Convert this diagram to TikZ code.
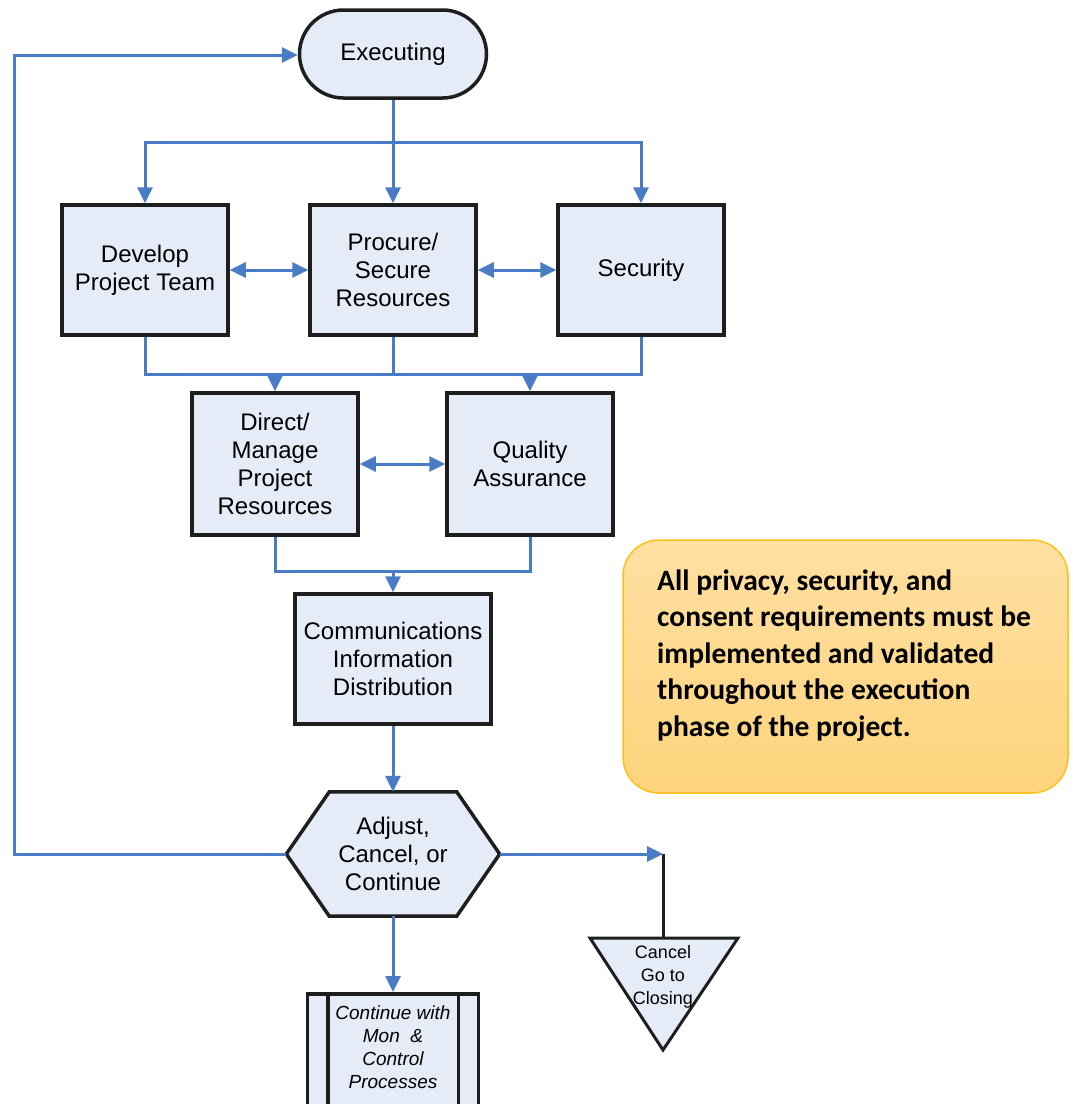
\documentclass[tikz,border=0pt]{standalone}
\usepackage{fontspec}
\setmainfont{Liberation Sans}
\newfontfamily\notefont{Carlito}
\usetikzlibrary{arrows.meta,shapes.misc,calc}

\definecolor{boxfill}{HTML}{E6ECF7}
\definecolor{boxline}{HTML}{1E1E1E}
\definecolor{flow}{HTML}{4A7CC6}
\definecolor{notetop}{HTML}{FFE0A2}
\definecolor{notebot}{HTML}{FED47C}
\definecolor{noteline}{HTML}{FFC119}

\tikzset{
  stepbox/.style={draw=boxline, line width=3.5pt, fill=boxfill, inner sep=0pt,
    align=center, font=\fontsize{24}{28}\selectfont},
  flowline/.style={draw=flow, line width=3pt},
  flowarrow/.style={flowline, -{Triangle[length=16pt,width=15pt]}},
  flowboth/.style={flowline, {Triangle[length=16pt,width=15pt]}-{Triangle[length=16pt,width=15pt]}},
  plainline/.style={draw=boxline, line width=3pt},
}

\begin{document}
\begin{tikzpicture}[x=1pt,y=-1pt]
\useasboundingbox (0,0) rectangle (1072,1104);

% start terminal
\node[stepbox, rounded rectangle, minimum width=187pt, minimum height=88pt] (exec) at (393,54) {Executing};

% first row of activities
\node[stepbox, minimum width=166pt, minimum height=130pt] (dev)  at (145,270) {Develop\\Project Team};
\node[stepbox, minimum width=166pt, minimum height=130pt] (proc) at (393,270) {Procure/\\Secure\\Resources};
\node[stepbox, minimum width=166pt, minimum height=130pt] (sec)  at (641,270) {Security};

% second row
\node[stepbox, minimum width=166pt, minimum height=142pt] (dir) at (275,464) {Direct/\\Manage\\Project\\Resources};
\node[stepbox, minimum width=166pt, minimum height=142pt] (qa)  at (530,464) {Quality\\Assurance};

% communications
\node[stepbox, minimum width=196pt, minimum height=130pt] (comm) at (393,659) {Communications\\Information\\Distribution};

% decision hexagon
\node[inner sep=0pt, minimum width=213pt, minimum height=124pt] (hex) at (393,854) {};
\filldraw[fill=boxfill, draw=boxline, line width=3.5pt, line join=miter]
  (hex.west) -- ($(hex.north west)+(43,0)$) -- ($(hex.north east)+(-43,0)$)
  -- (hex.east) -- ($(hex.south east)+(-43,0)$) -- ($(hex.south west)+(43,0)$) -- cycle;
\node[align=center, font=\fontsize{24}{28}\selectfont] at (hex) {Adjust,\\Cancel, or\\Continue};

% predefined process box (runs off the bottom)
\node[stepbox, minimum width=171pt, minimum height=118pt, anchor=north] (cont) at (393,992) {};
\draw[boxline, line width=3.5pt] ([xshift=22pt]cont.north west) -- ([xshift=22pt]cont.south west);
\draw[boxline, line width=3.5pt] ([xshift=-22pt]cont.north east) -- ([xshift=-22pt]cont.south east);
\node[align=center, font=\fontsize{19}{23}\selectfont\itshape, anchor=north] at ([yshift=-10pt]cont.north)
  {Continue with\\Mon\ \ \&\\Control\\Processes};

% off-page terminator
\coordinate (tritop) at (663,938);
\filldraw[fill=boxfill, draw=boxline, line width=3pt, line join=miter]
  (590,938) -- (738,938) -- (663,1050) -- cycle;
\node[align=center, font=\fontsize{18}{23}\selectfont, anchor=north] (tri) at (663,942)
  {Cancel\\Go to\\Closing};

% note
\node[rounded corners=36pt, draw=noteline, line width=1.5pt, top color=notetop, bottom color=notebot,
      minimum width=445pt, minimum height=253pt] (note) at (845.5,666.5) {};
\node[anchor=base west, align=left, inner sep=0pt,
      font=\notefont\bfseries\fontsize{29.5}{36.5}\selectfont] (notetext) at (657,736)
  {All privacy, security, and\\consent requirements must be\\implemented and validated\\throughout the execution\\phase of the project.};

% fan-out from the start terminal
\coordinate (split) at (393,142);
\draw[flowline] (exec.south) -- (split);
\draw[flowarrow] (split) -| (dev.north);
\draw[flowarrow] (split) -- (proc.north);
\draw[flowarrow] (split) -| (sec.north);

% links within the first row
\draw[flowboth] (dev.east) -- (proc.west);
\draw[flowboth] (proc.east) -- (sec.west);

% merge into the second row
\coordinate (merge1) at (393,374);
\draw[flowline] (dev.south) |- (merge1) -| (sec.south);
\draw[flowline] (proc.south) -- (merge1);
\draw[flowarrow] (dir.north |- merge1) -- (dir.north);
\draw[flowarrow] (qa.north |- merge1) -- (qa.north);
\draw[flowboth] (dir.east) -- (qa.west);

% merge into communications
\coordinate (merge2) at (393,571);
\draw[flowline] (dir.south) |- (merge2) -| (qa.south);
\draw[flowarrow] (merge2) -- (comm.north);

\draw[flowarrow] (comm.south) -- (hex.north);
\draw[flowarrow] (hex.south) -- (cont.north);

% loop back to the start
\draw[flowarrow] (hex.west) -- ++(-272,0) |- ([yshift=-1pt]exec.west);

% cancel branch
\coordinate (turn) at (663,854);
\draw[flowarrow] (hex.east) -- (turn);
\draw[plainline] (turn) -- (tritop);
\end{tikzpicture}
\end{document}
